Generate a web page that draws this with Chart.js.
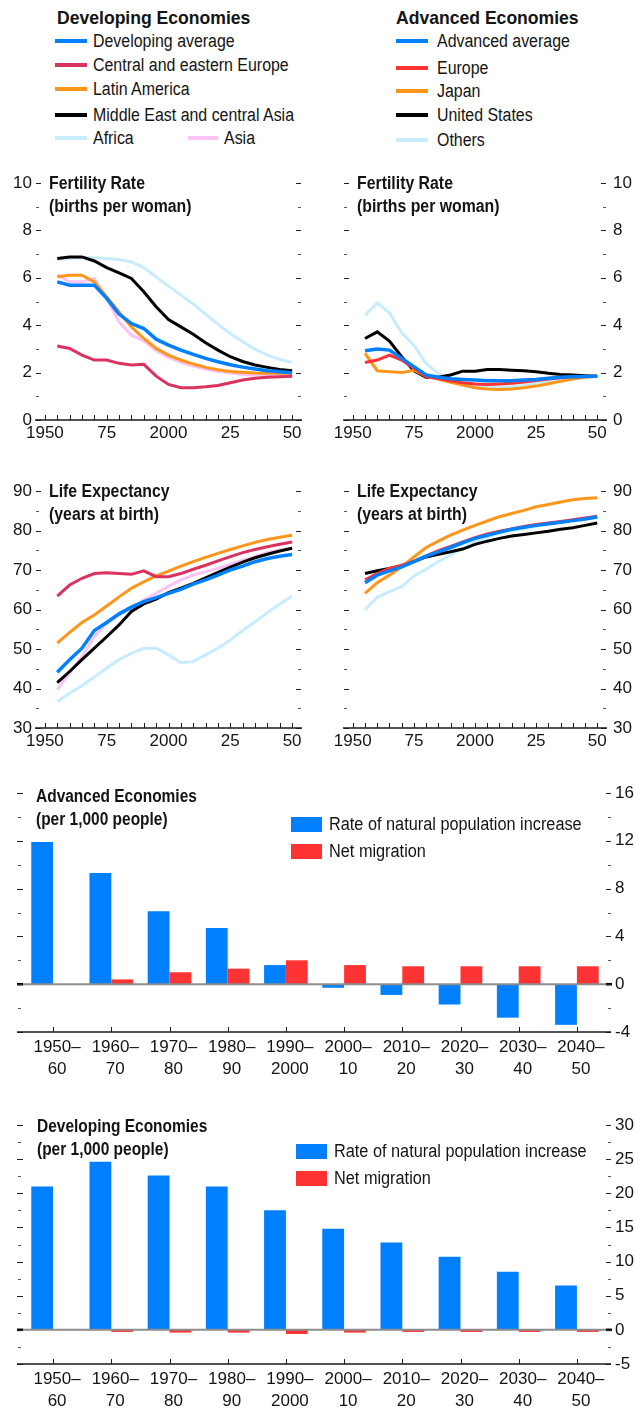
<!DOCTYPE html>
<html>
<head>
<meta charset="utf-8">
<title>Demographic trends</title>
<script src="https://cdn.jsdelivr.net/npm/chart.js@4.4.1/dist/chart.umd.min.js"></script>
<style>
  body { margin: 0; background: #fff; }
  #page { position: relative; width: 635px; height: 1410px; overflow: hidden; color: #141414;
          font-family: 'Liberation Sans', Arial, sans-serif; }
  canvas { position: absolute; }
  .sq { display: inline-block; transform-origin: 0 50%; white-space: nowrap; }
  .head { position: absolute; font-weight: bold; font-size: 18.5px; line-height: 24px; white-space: nowrap;
          transform: scaleX(0.95); transform-origin: 0 0; }
  .item { position: absolute; height: 20px; display: flex; align-items: center; font-size: 18px; white-space: nowrap; }
  .item i { display: inline-block; width: 32px; height: 3.5px; margin-right: 6px; }
  .item .sq { transform: scaleX(0.885); }
  .ttl { position: absolute; font-weight: bold; font-size: 18px; line-height: 23px; white-space: nowrap;
         transform: scaleX(0.88); transform-origin: 0 0; }
  .bkey { position: absolute; height: 16px; display: flex; align-items: center; font-size: 18px; white-space: nowrap; }
  .bkey i { display: inline-block; width: 31px; height: 15px; margin-right: 7px; }
  .bkey .sq { transform: scaleX(0.905); }
</style>
</head>
<body>
<div id="page">
  <div class="head" style="left:57px;top:6px">Developing Economies</div>
  <div class="head" style="left:396px;top:6px">Advanced Economies</div>
  <div id="legDev"></div>
  <div id="legAdv"></div>

  <canvas id="fertDev" width="320" height="290" style="left:0;top:160px"></canvas>
  <canvas id="fertAdv" width="315" height="290" style="left:320px;top:160px"></canvas>
  <canvas id="lifeDev" width="320" height="300" style="left:0;top:460px"></canvas>
  <canvas id="lifeAdv" width="315" height="300" style="left:320px;top:460px"></canvas>
  <canvas id="barAdv" width="635" height="320" style="left:0;top:770px"></canvas>
  <canvas id="barDev" width="635" height="310" style="left:0;top:1100px"></canvas>

  <div class="ttl" style="left:49px;top:172px">Fertility Rate<br>(births per woman)</div>
  <div class="ttl" style="left:357px;top:172px">Fertility Rate<br>(births per woman)</div>
  <div class="ttl" style="left:49px;top:480px">Life Expectancy<br>(years at birth)</div>
  <div class="ttl" style="left:357px;top:480px">Life Expectancy<br>(years at birth)</div>
  <div class="ttl" style="left:36px;top:785px;transform:scaleX(0.86)">Advanced Economies<br>(per 1,000 people)</div>
  <div class="ttl" style="left:37px;top:1115px;transform:scaleX(0.86)">Developing Economies<br>(per 1,000 people)</div>
  <div id="keyAdv"></div>
  <div id="keyDev"></div>
</div>

<script>
var FONT = "'Liberation Sans', Arial, sans-serif";
var BLUE = 'rgb(0,128,255)';
var RED = 'rgb(255,51,51)';
var CRIMSON = 'rgb(220,50,95)';
var ORANGE = 'rgb(255,150,25)';
var LIGHTBLUE = 'rgb(200,236,255)';
var PINK = 'rgb(250,195,245)';

// ---- data ----
var years = [1955,1960,1965,1970,1975,1980,1985,1990,1995,2000,2005,2010,2015,2020,2025,2030,2035,2040,2045,2050];
var yearMarks = [1950,1975,2000,2025,2050];
var yearText = ['1950','75','2000','25','50'];
var yearTicks = [];
for (var yr = 1950; yr <= 2050; yr += 5) yearTicks.push(yr);

var devLabels = ['Developing average','Central and eastern Europe','Latin America','Middle East and central Asia','Africa','Asia'];
var advLabels = ['Advanced average','Europe','Japan','United States','Others'];

// fertility (births per woman)
var devAvgFert = [5.83,5.69,5.69,5.69,5.13,4.47,4.07,3.86,3.41,3.16,2.95,2.77,2.60,2.46,2.33,2.23,2.15,2.08,2.04,1.99];
var ceeFert    = [3.12,3.02,2.74,2.53,2.53,2.39,2.32,2.35,1.85,1.50,1.36,1.36,1.40,1.46,1.57,1.69,1.76,1.80,1.83,1.85];
var latamFert  = [6.04,6.11,6.11,5.83,5.20,4.56,3.93,3.44,3.02,2.74,2.53,2.36,2.22,2.12,2.05,2.01,1.98,1.97,1.97,1.97];
var meFert     = [6.81,6.88,6.88,6.71,6.43,6.21,5.97,5.41,4.78,4.24,3.93,3.62,3.26,2.95,2.67,2.47,2.32,2.22,2.13,2.08];
var africaFert = [6.77,6.81,6.85,6.85,6.81,6.77,6.67,6.43,6.04,5.65,5.27,4.89,4.47,4.04,3.65,3.30,2.99,2.74,2.56,2.43];
var asiaFert   = [6.11,5.83,5.83,5.97,5.13,4.14,3.58,3.34,2.92,2.64,2.43,2.28,2.15,2.05,1.98,1.92,1.90,1.90,1.90,1.92];

var advAvgFert = [2.92,3.00,2.95,2.60,2.25,1.90,1.80,1.74,1.71,1.69,1.66,1.66,1.66,1.69,1.71,1.76,1.80,1.83,1.84,1.85];
var europeFert = [2.43,2.53,2.74,2.53,2.18,1.83,1.74,1.64,1.57,1.52,1.50,1.52,1.55,1.60,1.67,1.73,1.78,1.83,1.84,1.85];
var japanFert  = [2.81,2.08,2.04,2.00,2.10,1.85,1.73,1.59,1.47,1.36,1.31,1.29,1.31,1.36,1.43,1.53,1.63,1.73,1.80,1.85];
var usFert     = [3.44,3.72,3.33,2.67,2.08,1.80,1.80,1.90,2.06,2.06,2.13,2.13,2.10,2.08,2.04,1.97,1.92,1.90,1.87,1.85];
var othersFert = [4.42,4.94,4.52,3.68,3.16,2.39,1.97,1.69,1.55,1.46,1.40,1.38,1.40,1.46,1.55,1.63,1.71,1.77,1.83,1.85];

// life expectancy (years at birth)
var devAvgLife = [44.1,47.3,50.2,54.7,56.7,58.9,60.6,62.0,63.0,64.1,65.1,66.4,67.5,68.7,70.0,71.0,72.1,72.9,73.5,73.9];
var ceeLife    = [63.4,66.2,67.9,69.1,69.3,69.1,68.9,69.8,68.3,68.3,69.1,70.2,71.2,72.3,73.4,74.4,75.2,75.9,76.5,77.1];
var latamLife  = [51.5,54.2,56.7,58.6,60.9,63.2,65.4,67.0,68.5,69.7,71.0,72.1,73.2,74.2,75.2,76.1,77.0,77.7,78.3,78.8];
var meLife     = [41.5,44.3,47.3,50.2,53.1,56.1,59.5,61.4,62.6,64.3,65.4,66.6,68.0,69.4,70.7,72.0,73.1,74.0,74.8,75.5];
var africaLife = [36.7,38.8,40.7,42.9,45.2,47.3,48.9,50.2,50.2,48.5,46.6,46.8,48.5,50.2,52.3,54.7,56.9,59.2,61.4,63.4];
var asiaLife   = [39.8,43.9,48.1,53.1,56.5,58.6,60.3,62.4,64.1,65.9,67.5,68.7,69.6,70.4,71.5,72.5,73.4,74.4,75.0,75.6];

var advAvgLife = [66.8,68.7,69.8,70.8,72.1,73.5,74.6,75.7,76.9,78.0,78.8,79.6,80.3,80.8,81.3,81.7,82.1,82.5,82.9,83.4];
var europeLife = [67.5,69.1,70.4,71.2,72.2,73.6,74.9,76.0,77.1,78.2,79.1,79.8,80.4,81.0,81.5,81.9,82.3,82.7,83.2,83.6];
var japanLife  = [64.1,66.8,68.7,70.8,73.3,75.7,77.3,78.8,80.1,81.3,82.4,83.5,84.3,85.1,86.0,86.6,87.2,87.8,88.1,88.3];
var usLife     = [69.1,69.8,70.4,71.0,72.1,73.3,74.0,74.6,75.3,76.5,77.3,78.0,78.6,79.0,79.4,79.8,80.3,80.7,81.3,81.9];
var othersLife = [59.9,63.1,64.5,65.8,68.5,70.2,72.1,73.8,75.5,77.1,78.4,79.2,79.9,80.5,81.1,81.6,82.1,82.6,83.0,83.5];

// population change (per 1,000 people)
var decadeLabels = [['1950–','60'],['1960–','70'],['1970–','80'],['1980–','90'],['1990–','2000'],
                    ['2000–','10'],['2010–','20'],['2020–','30'],['2030–','40'],['2040–','50']];
var barLabels = ['Rate of natural population increase','Net migration'];
var advNatural   = [11.9,9.3,6.1,4.7,1.6,-0.3,-0.9,-1.7,-2.8,-3.4];
var advMigration = [0,0.4,1.0,1.3,2.0,1.6,1.5,1.5,1.5,1.5];
var devNatural   = [21.0,24.6,22.6,21.0,17.5,14.8,12.8,10.7,8.5,6.5];
var devMigration = [0,-0.3,-0.4,-0.4,-0.6,-0.4,-0.3,-0.3,-0.3,-0.3];

// axis ticks
var fertTicks = [0,2,4,6,8,10];
var fertMinor = [1,3,5,7,9];
var lifeTicks = [30,40,50,60,70,80,90];
var lifeMinor = [35,45,55,65,75,85];
var advBarTicks = [-4,0,4,8,12,16];
var advBarMinor = [-2,2,6,10,14];
var devBarTicks = [-5,0,5,10,15,20,25,30];
var devBarMinor = [-2.5,2.5,7.5,12.5,17.5,22.5,27.5];

// ---- legends (html) ----
var devColors = [BLUE, CRIMSON, ORANGE, '#000', LIGHTBLUE, PINK];
var advColors = [BLUE, RED, ORANGE, '#000', LIGHTBLUE];
var devSpots = [[55,31],[55,55],[55,79],[55,105],[55,128],[188,128]];
var advSpots = [[396,31],[396,58],[396,81],[396,105],[396,130]];

function legend(box, labels, colors, spots, gap) {
    var html = '';
    for (var i = 0; i < labels.length; i++) {
        var w = (i == 5) ? 30 : 32;
        html += '<div class="item" style="left:' + spots[i][0] + 'px;top:' + spots[i][1] + 'px">' +
            '<i style="background:' + colors[i] + ';width:' + w + 'px;margin-right:' + gap + 'px"></i>' +
            '<span class="sq">' + labels[i] + '</span></div>';
    }
    document.getElementById(box).innerHTML = html;
}
legend('legDev', devLabels, devColors, devSpots, 6);
legend('legAdv', advLabels, advColors, advSpots, 9);

function barKey(box, x, tops) {
    var cols = [BLUE, RED];
    var html = '';
    for (var i = 0; i < 2; i++) {
        html += '<div class="bkey" style="left:' + x + 'px;top:' + tops[i] + 'px"><i style="background:' + cols[i] + '"></i>' +
            '<span class="sq">' + barLabels[i] + '</span></div>';
    }
    document.getElementById(box).innerHTML = html;
}
barKey('keyAdv', 291, [816, 843]);
barKey('keyDev', 296, [1143, 1170]);

// ---- tick dashes and axis lines ----
var dashes = {
    id: 'dashes',
    afterDatasetsDraw: function(chart, args, o) {
        var ctx = chart.ctx, a = chart.chartArea, x = chart.scales.x, y = chart.scales.y;
        function seg(x0, y0, x1, y1, w, c) {
            ctx.beginPath();
            ctx.lineWidth = w;
            ctx.strokeStyle = c;
            ctx.moveTo(x0, y0);
            ctx.lineTo(x1, y1);
            ctx.stroke();
        }
        ctx.save();
        if (o.zero) {
            var z = y.getPixelForValue(0);
            seg(a.left + o.axis[0], z, a.right + o.axis[1], z, 2, '#8c8c8c');
            seg(a.left + o.l[0], z, a.left + o.l[1], z, 2.5, '#000');
            seg(a.right + o.r[0], z, a.right + o.r[1] + 1, z, 2.5, '#000');
        }
        o.major.forEach(function(v) {
            var p = Math.round(y.getPixelForValue(v)) + 0.5;
            seg(a.left + o.l[0], p, a.left + o.l[1], p, 1, '#222');
            seg(a.right + o.r[0], p, a.right + o.r[1], p, 1, '#222');
        });
        o.minor.forEach(function(v) {
            var p = Math.round(y.getPixelForValue(v)) + 0.5;
            seg(a.left + o.lm[0], p, a.left + o.lm[1], p, 1, '#555');
            seg(a.right + o.rm[0], p, a.right + o.rm[1], p, 1, '#555');
        });
        o.xTicks.forEach(function(v) {
            var p = Math.round(x.getPixelForValue(v)) + 0.5;
            seg(p, a.bottom, p, a.bottom - 5, 1, '#222');
        });
        seg(a.left + o.axis[0], a.bottom, a.right + o.axis[1], a.bottom, 1.6, '#1a1a1a');
        ctx.restore();
    }
};

function makeLine(id, labels, colors, series, cfg) {
    var sets = [];
    for (var i = 0; i < series.length; i++) {
        var pts = [];
        for (var j = 0; j < years.length; j++) pts.push({x: years[j], y: series[i][j]});
        sets.push({
            label: labels[i],
            data: pts,
            borderColor: colors[i],
            borderWidth: i == 0 ? 3.5 : 3,
            pointRadius: 0,
            tension: 0,
            fill: false
        });
    }
    new Chart(document.getElementById(id), {
        type: 'line',
        data: { datasets: sets },
        options: {
            responsive: false,
            animation: false,
            devicePixelRatio: 1,
            layout: { padding: cfg.pad },
            plugins: {
                legend: { display: false },
                tooltip: { enabled: false },
                dashes: { major: cfg.major, minor: cfg.minor, xTicks: yearTicks,
                          l: [1, 6], r: [-6, -1], lm: [1, 4], rm: [-4, -1], axis: [0, 0] }
            },
            scales: {
                x: {
                    type: 'linear', min: 1946, max: 2054,
                    grid: { display: false, drawTicks: false },
                    border: { display: false },
                    afterBuildTicks: function(s) { s.ticks = yearMarks.map(function(v) { return {value: v}; }); },
                    afterFit: function(s) { s.height = cfg.xh; },
                    ticks: {
                        font: { family: FONT, size: 17 }, color: '#141414', padding: 3,
                        maxRotation: 0, autoSkip: false,
                        callback: function(v) { return yearText[yearMarks.indexOf(v)]; }
                    }
                },
                y: {
                    position: cfg.side, min: cfg.min, max: cfg.max,
                    grid: { display: false, drawTicks: false },
                    border: { display: false },
                    afterBuildTicks: function(s) { s.ticks = cfg.major.map(function(v) { return {value: v}; }); },
                    afterFit: function(s) { s.width = cfg.yw; },
                    ticks: { font: { family: FONT, size: 17 }, color: '#141414', padding: cfg.side == 'left' ? 3 : 6 }
                }
            }
        },
        plugins: [dashes]
    });
}

makeLine('fertDev', devLabels, devColors, [devAvgFert, ceeFert, latamFert, meFert, africaFert, asiaFert],
    { pad: {top: 23, left: 0, right: 18, bottom: 0}, side: 'left', yw: 35, xh: 30, min: 0, max: 10, major: fertTicks, minor: fertMinor });
makeLine('fertAdv', advLabels, advColors, [advAvgFert, europeFert, japanFert, usFert, othersFert],
    { pad: {top: 23, left: 23, right: 0, bottom: 0}, side: 'right', yw: 28, xh: 30, min: 0, max: 10, major: fertTicks, minor: fertMinor });
makeLine('lifeDev', devLabels, devColors, [devAvgLife, ceeLife, latamLife, meLife, africaLife, asiaLife],
    { pad: {top: 31, left: 0, right: 18, bottom: 0}, side: 'left', yw: 35, xh: 32, min: 30, max: 90, major: lifeTicks, minor: lifeMinor });
makeLine('lifeAdv', advLabels, advColors, [advAvgLife, europeLife, japanLife, usLife, othersLife],
    { pad: {top: 31, left: 23, right: 0, bottom: 0}, side: 'right', yw: 28, xh: 32, min: 30, max: 90, major: lifeTicks, minor: lifeMinor });

function makeBar(id, natural, migration, cfg) {
    var idx = decadeLabels.map(function(d, i) { return i; });
    new Chart(document.getElementById(id), {
        type: 'bar',
        data: {
            labels: decadeLabels,
            datasets: [
                { label: barLabels[0], data: natural, backgroundColor: BLUE, categoryPercentage: 0.75, barPercentage: 1 },
                { label: barLabels[1], data: migration, backgroundColor: RED, categoryPercentage: 0.75, barPercentage: 1 }
            ]
        },
        options: {
            responsive: false,
            animation: false,
            devicePixelRatio: 1,
            layout: { padding: {top: cfg.top, left: 24, right: 0, bottom: 0} },
            plugins: {
                legend: { display: false },
                tooltip: { enabled: false },
                dashes: { major: cfg.major, minor: cfg.minor, xTicks: idx, zero: true,
                          l: [-7, -1], r: [0, 5], lm: [-6, -3], rm: [2, 5], axis: [-7, 5] }
            },
            scales: {
                x: {
                    grid: { display: false, drawTicks: false },
                    border: { display: false },
                    afterFit: function(s) { s.height = cfg.xh; },
                    ticks: { font: { family: FONT, size: 17, lineHeight: 1.3 }, color: '#141414', padding: 4, labelOffset: 4,
                             maxRotation: 0, autoSkip: false }
                },
                y: {
                    position: 'right', min: cfg.min, max: cfg.max,
                    grid: { display: false, drawTicks: false },
                    border: { display: false },
                    afterBuildTicks: function(s) { s.ticks = cfg.major.map(function(v) { return {value: v}; }); },
                    afterFit: function(s) { s.width = 29; },
                    ticks: { font: { family: FONT, size: 17 }, color: '#141414', padding: 9 }
                }
            }
        },
        plugins: [dashes]
    });
}

makeBar('barAdv', advNatural, advMigration, { top: 23, xh: 58, min: -4, max: 16, major: advBarTicks, minor: advBarMinor });
makeBar('barDev', devNatural, devMigration, { top: 25, xh: 46, min: -5, max: 30, major: devBarTicks, minor: devBarMinor });
</script>
</body>
</html>
